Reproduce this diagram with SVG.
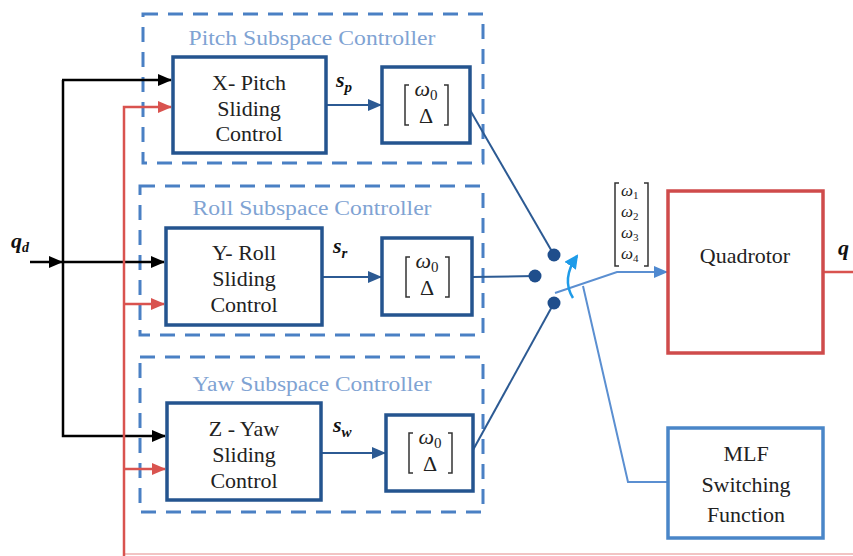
<svg xmlns="http://www.w3.org/2000/svg" width="853" height="556" viewBox="0 0 853 556">
<defs>
<marker id="aBlk" markerUnits="userSpaceOnUse" markerWidth="14" markerHeight="12" refX="13" refY="6" orient="auto"><path d="M0,0 L14,6 L0,12 z" fill="#000"/></marker>
<marker id="aRed" markerUnits="userSpaceOnUse" markerWidth="14" markerHeight="12" refX="13" refY="6" orient="auto"><path d="M0,0 L14,6 L0,12 z" fill="#d9534f"/></marker>
<marker id="aDk" markerUnits="userSpaceOnUse" markerWidth="14" markerHeight="12" refX="13" refY="6" orient="auto"><path d="M0,0 L14,6 L0,12 z" fill="#2c5a93"/></marker>
<marker id="aLb" markerUnits="userSpaceOnUse" markerWidth="14" markerHeight="12" refX="13" refY="6" orient="auto"><path d="M0,0 L14,6 L0,12 z" fill="#4f89d0"/></marker>
<marker id="aCy" markerUnits="userSpaceOnUse" markerWidth="14" markerHeight="14" refX="12" refY="7" orient="auto"><path d="M0,0 L14,7 L0,14 z" fill="#1e9be8"/></marker>
</defs>
<style>
.bx{font-family:"Liberation Serif",serif;font-size:22px;text-anchor:middle;fill:#222}
.mt{font-family:"Liberation Serif",serif;fill:#222;font-size:17px;font-style:italic}
.title{font-family:"Liberation Serif",serif;font-size:20px;fill:#7fa3d3;text-anchor:middle}
.dash{fill:none;stroke:#4a80c4;stroke-width:3;stroke-dasharray:15 10}
.ctl{fill:#fff;stroke:#24548f;stroke-width:3.5}
.brk{fill:none;stroke:#333;stroke-width:1.5}
.om{font-family:"Liberation Serif",serif;fill:#222;font-size:22px;text-anchor:middle}
.omi{font-style:italic}
.sub{font-size:15px}
.blk{stroke:#000;stroke-width:2.5;fill:none}
.red{stroke:#d9534f;stroke-width:2.5;fill:none}
.dk{stroke:#2c5a93;stroke-width:2;fill:none}
.lb{stroke:#5b8fd1;stroke-width:2;fill:none}
.sym{font-family:"Liberation Serif",serif;font-weight:bold;font-style:italic;font-size:22px;fill:#111}
.dot{fill:#1f4e8c}
</style>

<g id="pitch-group">
<rect class="dash" x="143" y="14" width="340" height="149"/>
<text class="title" x="312" y="45" textLength="247" lengthAdjust="spacingAndGlyphs">Pitch Subspace Controller</text>
</g>
<g id="roll-group">
<rect class="dash" x="140" y="186" width="343" height="149"/>
<text class="title" x="312" y="215" textLength="239" lengthAdjust="spacingAndGlyphs">Roll Subspace Controller</text>
</g>
<g id="yaw-group">
<rect class="dash" x="140" y="357" width="343" height="155"/>
<text class="title" x="312" y="391" textLength="239" lengthAdjust="spacingAndGlyphs">Yaw Subspace Controller</text>
</g>

<g id="connectors">
<line class="blk" x1="30" y1="262" x2="62" y2="262" marker-end="url(#aBlk)"/>
<polyline class="blk" points="63,80 63,436 165,436" marker-end="url(#aBlk)"/>
<line class="blk" x1="62" y1="80" x2="171" y2="80" marker-end="url(#aBlk)"/>
<line class="blk" x1="63" y1="262" x2="164" y2="262" marker-end="url(#aBlk)"/>
<polyline class="red" points="823,272 853,272"/>
<line x1="124" y1="554" x2="853" y2="554" stroke="#f2c4c4" stroke-width="2"/>
<polyline class="red" points="124,556 124,107 171,107" marker-end="url(#aRed)"/>
<line class="red" x1="124" y1="304" x2="164" y2="304" marker-end="url(#aRed)"/>
<line class="red" x1="124" y1="469" x2="165" y2="469" marker-end="url(#aRed)"/>
<line class="dk" x1="326" y1="105" x2="381" y2="105" marker-end="url(#aDk)"/>
<line class="dk" x1="322" y1="277" x2="381" y2="277" marker-end="url(#aDk)"/>
<line class="dk" x1="321" y1="453" x2="385" y2="453" marker-end="url(#aDk)"/>
<line class="dk" x1="470" y1="110" x2="554" y2="255"/>
<line class="dk" x1="472" y1="277" x2="535" y2="276"/>
<line class="dk" x1="473" y1="450" x2="554" y2="303"/>
<polyline class="lb" points="555,293 617,272 667,272" marker-end="url(#aLb)"/>
<polyline class="lb" points="583,286 628,482 668,482"/>
<path d="M573,298 Q561,279 577,256" fill="none" stroke="#1e9be8" stroke-width="2.5" marker-end="url(#aCy)"/>
</g>

<g id="switch-contacts">
<circle class="dot" cx="554" cy="255" r="6.5"/>
<circle class="dot" cx="535" cy="276" r="6.5"/>
<circle class="dot" cx="554" cy="303" r="6.5"/>
</g>

<g id="x-pitch">
<rect class="ctl" x="173" y="57" width="153" height="96"/>
<text class="bx" x="249" y="90">X- Pitch</text>
<text class="bx" x="249" y="116">Sliding</text>
<text class="bx" x="249" y="141">Control</text>
</g>
<g id="y-roll">
<rect class="ctl" x="166" y="228" width="156" height="97"/>
<text class="bx" x="244" y="260">Y- Roll</text>
<text class="bx" x="244" y="286">Sliding</text>
<text class="bx" x="244" y="312">Control</text>
</g>
<g id="z-yaw">
<rect class="ctl" x="167" y="403" width="154" height="97"/>
<text class="bx" x="244" y="436">Z - Yaw</text>
<text class="bx" x="244" y="462">Sliding</text>
<text class="bx" x="244" y="488">Control</text>
</g>

<g id="omega-pitch">
<rect class="ctl" x="382" y="67" width="88" height="76"/>
<path class="brk" d="M409,85 h-4 v40 h4 M444,85 h4 v40 h-4"/>
<text class="om" x="426" y="96"><tspan class="omi">ω</tspan><tspan class="sub" dy="4">0</tspan></text>
<text class="om" x="426" y="123">Δ</text>
</g>
<g id="omega-roll">
<rect class="ctl" x="382" y="238" width="90" height="77"/>
<path class="brk" d="M410,257 h-4 v40 h4 M445,257 h4 v40 h-4"/>
<text class="om" x="427" y="268"><tspan class="omi">ω</tspan><tspan class="sub" dy="4">0</tspan></text>
<text class="om" x="427" y="295">Δ</text>
</g>
<g id="omega-yaw">
<rect class="ctl" x="386" y="415" width="87" height="76"/>
<path class="brk" d="M413,433 h-4 v40 h4 M448,433 h4 v40 h-4"/>
<text class="om" x="430" y="444"><tspan class="omi">ω</tspan><tspan class="sub" dy="4">0</tspan></text>
<text class="om" x="430" y="471">Δ</text>
</g>

<g id="labels">
<text class="sym" x="11" y="248">q<tspan font-size="14" dy="4">d</tspan></text>
<text class="sym" x="336" y="87">s<tspan font-size="15" dy="5">p</tspan></text>
<text class="sym" x="333" y="253">s<tspan font-size="15" dy="5">r</tspan></text>
<text class="sym" x="333" y="432">s<tspan font-size="15" dy="5">w</tspan></text>
<text class="sym" x="838" y="255">q</text>
<path class="brk" d="M619,183 h-4 v83 h4 M644,183 h4 v83 h-4"/>
<text class="mt" x="621" y="196">ω<tspan font-size="11" font-style="normal" dy="3">1</tspan></text>
<text class="mt" x="621" y="217">ω<tspan font-size="11" font-style="normal" dy="3">2</tspan></text>
<text class="mt" x="621" y="238">ω<tspan font-size="11" font-style="normal" dy="3">3</tspan></text>
<text class="mt" x="621" y="259">ω<tspan font-size="11" font-style="normal" dy="3">4</tspan></text>
</g>

<g id="quadrotor">
<rect x="668" y="191" width="155" height="162" fill="#fff" stroke="#cf4b4b" stroke-width="3.5"/>
<text class="bx" x="745" y="263">Quadrotor</text>
</g>
<g id="mlf">
<rect x="668" y="428" width="155" height="110" fill="#fff" stroke="#4a86c8" stroke-width="3.5"/>
<text class="bx" x="746" y="461">MLF</text>
<text class="bx" x="746" y="492">Switching</text>
<text class="bx" x="746" y="522">Function</text>
</g>
</svg>
